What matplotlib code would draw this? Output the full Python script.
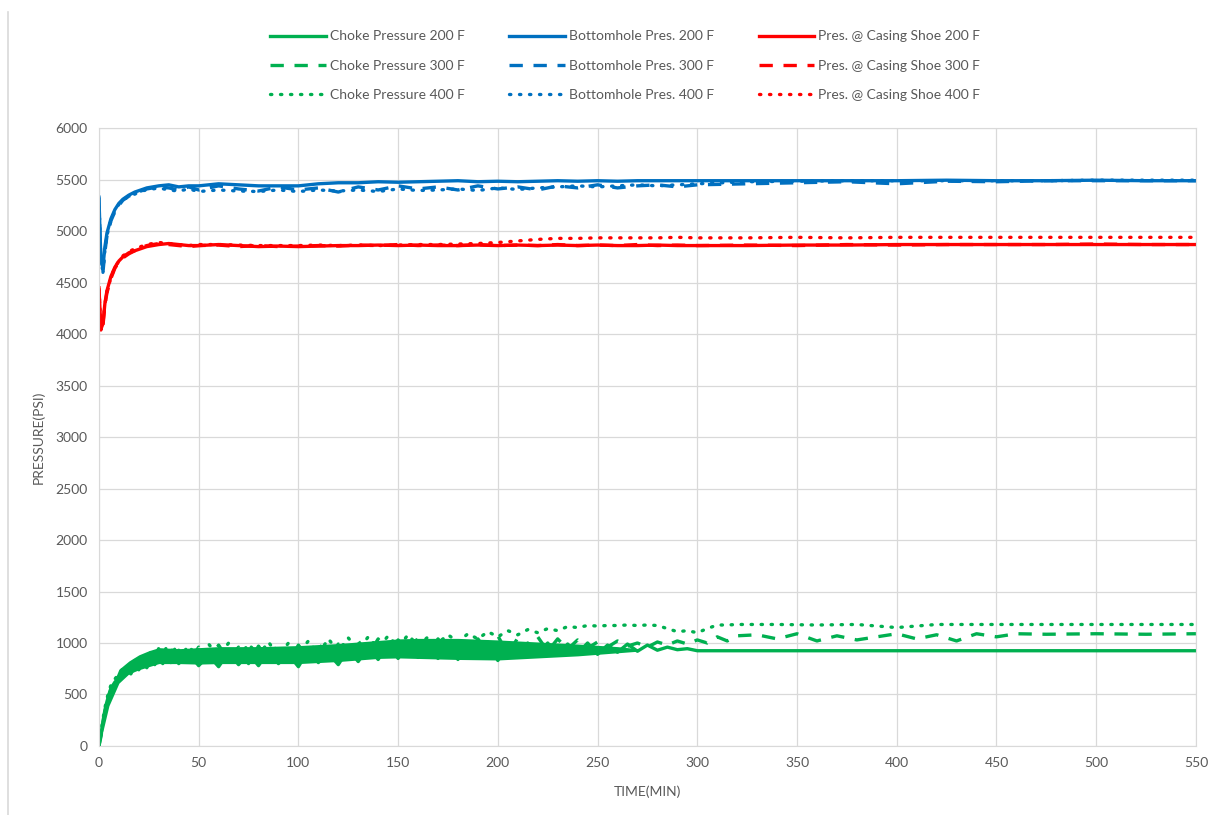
import numpy as np
import matplotlib.pyplot as plt
from matplotlib.lines import Line2D

plt.rcParams['font.family'] = ['Lato', 'DejaVu Sans']

# ---------- top curves (bottomhole / casing shoe) ----------
t_top = [0, 1, 2, 3, 4, 6, 8, 10, 12, 15,
         18, 21, 24, 27, 30, 35, 40, 45, 50, 60,
         70, 80, 90, 100, 110, 120, 130, 140, 150, 160,
         170, 180, 190, 200, 210, 220, 230, 240, 250, 260,
         270, 280, 290, 300, 325, 350, 375, 400, 425, 450,
         475, 500, 525, 550]

bh_200 = [5330, 4700, 4650, 4850, 4980, 5120, 5210, 5270, 5310, 5350,
          5380, 5400, 5420, 5430, 5440, 5450, 5430, 5440, 5440, 5460,
          5450, 5440, 5440, 5440, 5460, 5470, 5470, 5480, 5475, 5480,
          5485, 5490, 5480, 5485, 5480, 5485, 5490, 5485, 5490, 5485,
          5490, 5490, 5490, 5490, 5490, 5490, 5490, 5490, 5495, 5490,
          5490, 5495, 5490, 5490]
bh_300 = [5300, 4650, 4600, 4800, 4950, 5100, 5190, 5250, 5300, 5340,
          5370, 5390, 5410, 5420, 5430, 5420, 5400, 5430, 5400, 5440,
          5410, 5390, 5430, 5400, 5420, 5380, 5430, 5400, 5440, 5410,
          5430, 5400, 5440, 5410, 5430, 5400, 5440, 5420, 5450, 5420,
          5440, 5450, 5430, 5450, 5460, 5470, 5480, 5460, 5485, 5480,
          5490, 5490, 5490, 5490]
bh_400 = [5320, 4680, 4620, 4820, 4960, 5100, 5200, 5260, 5300, 5340,
          5360, 5390, 5400, 5410, 5420, 5400, 5390, 5410, 5385, 5400,
          5390, 5385, 5400, 5385, 5400, 5390, 5400, 5385, 5410, 5395,
          5400, 5410, 5395, 5420, 5405, 5420, 5430, 5440, 5430, 5440,
          5450, 5440, 5450, 5460, 5480, 5485, 5490, 5490, 5490, 5490,
          5490, 5495, 5495, 5495]

shoe_200 = [4450, 4050, 4100, 4300, 4420, 4560, 4650, 4710, 4750, 4790,
            4810, 4830, 4850, 4860, 4870, 4880, 4870, 4860, 4860, 4870,
            4860, 4850, 4855, 4850, 4855, 4860, 4860, 4865, 4860, 4865,
            4860, 4860, 4865, 4860, 4865, 4860, 4865, 4860, 4865, 4860,
            4860, 4865, 4860, 4860, 4860, 4865, 4865, 4870, 4870, 4870,
            4870, 4870, 4870, 4870]
shoe_300 = [4430, 4030, 4080, 4280, 4400, 4540, 4640, 4700, 4740, 4780,
            4810, 4840, 4860, 4870, 4880, 4870, 4860, 4850, 4860, 4865,
            4850, 4860, 4850, 4855, 4860, 4855, 4865, 4860, 4870, 4860,
            4865, 4860, 4870, 4860, 4865, 4860, 4870, 4860, 4865, 4860,
            4870, 4860, 4865, 4860, 4865, 4860, 4870, 4865, 4870, 4870,
            4870, 4875, 4870, 4870]
shoe_400 = [4440, 4040, 4090, 4290, 4410, 4550, 4650, 4710, 4760, 4800,
            4830, 4850, 4870, 4880, 4890, 4880, 4870, 4860, 4870, 4870,
            4865, 4860, 4860, 4860, 4865, 4860, 4865, 4860, 4865, 4870,
            4870, 4875, 4880, 4890, 4905, 4920, 4930, 4930, 4935, 4935,
            4935, 4935, 4940, 4935, 4935, 4940, 4935, 4940, 4940, 4940,
            4940, 4940, 4940, 4940]

# ---------- choke pressure ----------
t_choke = [0, 1, 2, 3, 4, 5, 6, 8, 10, 12,
           14, 16, 18, 20, 22, 24, 26, 28, 30, 32,
           34, 36, 38, 40, 45, 50, 55, 60, 65, 70,
           75, 80, 85, 90, 95, 100, 105, 110, 115, 120,
           125, 130, 135, 140, 145, 150, 155, 160, 165, 170,
           175, 180, 185, 190, 195, 200, 205, 210, 215, 220,
           225, 230, 235, 240, 245, 250, 255, 260, 265, 270,
           275, 280, 285, 290, 295, 300, 305, 310, 315, 320]

choke_200 = [0, 110, 240, 350, 430, 500, 560, 620, 660, 700,
             740, 700, 780, 740, 820, 760, 850, 790, 880, 800,
             900, 810, 870, 800, 900, 780, 880, 770, 910, 790,
             900, 780, 920, 800, 890, 770, 930, 810, 900, 790,
             940, 820, 960, 840, 990, 850, 1000, 860, 980, 850,
             990, 840, 1000, 860, 1010, 830, 990, 860, 1000, 870,
             1000, 880, 990, 900, 1000, 890, 980, 910, 990, 920,
             980, 930, 960, 935, 945, 925, 925, 925, 925, 925]
choke_200_tail_t = [400, 550]
choke_200_tail = [925, 925]

choke_300 = [0, 90, 220, 330, 420, 490, 550, 610, 670, 730,
             700, 790, 760, 830, 770, 870, 800, 900, 820, 930,
             830, 950, 820, 930, 800, 960, 820, 980, 830, 960,
             800, 970, 830, 990, 810, 980, 850, 1000, 830, 990,
             870, 1020, 880, 1040, 870, 1030, 900, 1050, 880, 1040,
             900, 1060, 880, 1040, 910, 1070, 890, 1050, 930, 1060,
             920, 1040, 940, 1030, 950, 1010, 960, 1020, 970, 1000,
             960, 1010, 980, 1020, 990, 1030, 1000, 1060, 1020, 1070]
choke_300_tail_t = [330, 340, 350, 360, 370, 380, 390, 400, 410, 420,
                    430, 440, 450, 460, 475, 500, 525, 550]
choke_300_tail = [1080, 1040, 1090, 1020, 1070, 1030, 1060, 1090, 1040, 1080,
                  1020, 1090, 1060, 1090, 1085, 1090, 1085, 1090]

choke_400 = [0, 130, 260, 370, 460, 530, 590, 650, 700, 750,
             780, 760, 830, 790, 870, 820, 910, 840, 950, 860,
             970, 880, 940, 860, 970, 850, 990, 870, 1000, 860,
             990, 880, 1010, 870, 1000, 900, 1020, 890, 1040, 920,
             1050, 930, 1060, 950, 1070, 960, 1080, 970, 1060, 1000,
             1080, 1010, 1090, 1040, 1110, 1060, 1120, 1080, 1130, 1100,
             1140, 1120, 1160, 1150, 1170, 1165, 1170, 1170, 1175, 1170,
             1175, 1170, 1140, 1110, 1120, 1100, 1140, 1175, 1175, 1180]
choke_400_tail_t = [340, 360, 380, 400, 420, 450, 500, 550]
choke_400_tail = [1180, 1175, 1180, 1150, 1180, 1180, 1180, 1180]

# core of the dense, overlapping scatter of the three choke traces
band_t = [0, 2, 5, 10, 15, 20, 25, 30, 40, 50, 60, 80,
          100, 120, 140, 150, 160, 180, 200, 220, 240, 260, 270]
band_lo = [0, 145, 390, 610, 700, 740, 770, 800, 800, 795, 800, 800,
           800, 820, 850, 855, 850, 840, 835, 855, 875, 905, 920]
band_hi = [0, 270, 510, 745, 825, 885, 925, 955, 945, 955, 965, 965,
           975, 995, 1025, 1040, 1045, 1045, 1030, 1010, 990, 965, 945]

GREEN = '#00B050'
BLUE = '#0070C0'
RED = '#FF0000'
TXT = '#595959'
GRID = '#D9D9D9'

LW = 2.4
styles = {
    '200': dict(linestyle='-'),
    '300': dict(linestyle=(0, (4, 3.2))),
    '400': dict(linestyle=(0, (0.4, 2.6)), dash_capstyle='round'),
}

fig = plt.figure(figsize=(12.14, 8.15), dpi=100)
ax = fig.add_axes([0.0815, 0.0847, 0.9036, 0.758])

ax.fill_between(band_t, band_lo, band_hi, color=GREEN, lw=0)

handles = []
# choke
for key, yv, tt, ty in [('200', choke_200, choke_200_tail_t, choke_200_tail),
                        ('300', choke_300, choke_300_tail_t, choke_300_tail),
                        ('400', choke_400, choke_400_tail_t, choke_400_tail)]:
    x = list(t_choke) + list(tt)
    y = list(yv) + list(ty)
    h, = ax.plot(x, y, color=GREEN, lw=LW, **styles[key],
                 label='Choke Pressure ' + key + ' F')
    handles.append(h)
# bottomhole
for key, yv in [('200', bh_200), ('300', bh_300), ('400', bh_400)]:
    h, = ax.plot(t_top, yv, color=BLUE, lw=LW, **styles[key],
                 label='Bottomhole Pres. ' + key + ' F')
    handles.append(h)
# casing shoe
for key, yv in [('200', shoe_200), ('300', shoe_300), ('400', shoe_400)]:
    h, = ax.plot(t_top, yv, color=RED, lw=LW, **styles[key],
                 label='Pres. @ Casing Shoe ' + key + ' F')
    handles.append(h)

ax.set_xlim(0, 550)
ax.set_ylim(0, 6000)
ax.set_xticks(np.arange(0, 551, 50))
ax.set_yticks(np.arange(0, 6001, 500))
ax.grid(True, color=GRID, lw=0.9)
ax.set_axisbelow(True)
for s in ax.spines.values():
    s.set_color(GRID)
ax.tick_params(length=0, labelsize=10, colors=TXT, pad=8)
ax.set_xlabel('TIME(MIN)', fontsize=10, color=TXT, labelpad=12)
ax.set_ylabel('PRESSURE(PSI)', fontsize=10, color=TXT, labelpad=8)

fig.legend(handles=handles, loc='upper center', bbox_to_anchor=(0.515, 0.978),
           ncol=3, frameon=False, fontsize=10, handlelength=4.0,
           handletextpad=0.3, columnspacing=3.2, labelspacing=1.25,
           labelcolor=TXT)

fig.add_artist(Line2D([0.0066, 0.0066], [0.0, 0.985], color=GRID, lw=1.2,
                      transform=fig.transFigure))

fig.savefig('out.png', dpi=100, facecolor='white')
